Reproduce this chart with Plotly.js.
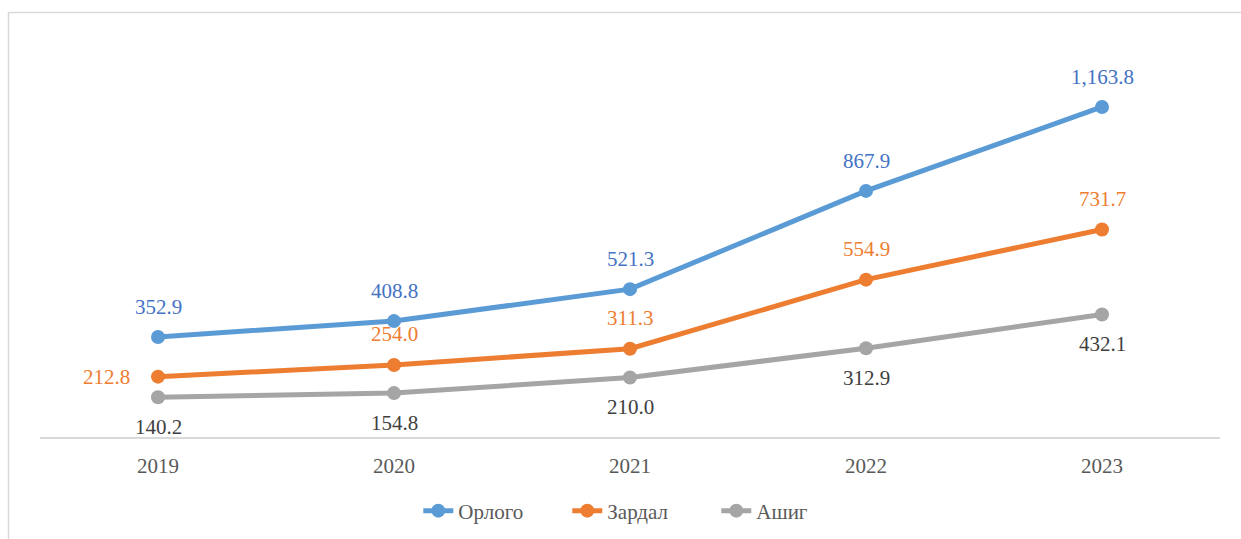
<!DOCTYPE html>
<html>
<head>
<meta charset="utf-8">
<script src="https://cdn.plot.ly/plotly-3.0.1.min.js"></script>
<style>
  html, body { margin: 0; padding: 0; background: #fff; }
  #chart { width: 1241px; height: 539px; }
</style>
</head>
<body>
<div id="chart"></div>
<script>
const years = ["2019", "2020", "2021", "2022", "2023"];
const orlogo = [352.9, 408.8, 521.3, 867.9, 1163.8];
const zardal = [212.8, 254.0, 311.3, 554.9, 731.7];
const ashig = [140.2, 154.8, 210.0, 312.9, 432.1];

const W = 1241, H = 539;
const mL = 40, mR = 21, mT = 40, mB = 102;
const plotW = W - mL - mR, plotH = H - mT - mB;
const px = x => (x - mL) / plotW;
const py = y => (H - mB - y) / plotH;

const fontFam = "Liberation Serif, Times New Roman, serif";
const fs = 21;

function series(name, y, color) {
    return {
        x: years,
        y: y,
        name: name,
        mode: "lines+markers",
        line: { color: color, width: 5 },
        marker: { color: color, size: 14 },
        hoverinfo: "skip"
    };
}

const traces = [
    series("Орлого", orlogo, "#5B9BD5"),
    series("Зардал", zardal, "#ED7D31"),
    series("Ашиг", ashig, "#A5A5A5")
];

const fmt = v => v.toLocaleString("en-US", { minimumFractionDigits: 1, maximumFractionDigits: 1 });

// category axis: annotation x is the category index (strings like "2019" get read as numbers)
const annotations = [];
years.forEach((yr, i) => {
    annotations.push({ x: i, y: orlogo[i], text: fmt(orlogo[i]), showarrow: false,
        yshift: 30, font: { color: "#4472C4", size: fs, family: fontFam } });
    const left = i === 0;
    annotations.push({ x: i, y: zardal[i], text: fmt(zardal[i]), showarrow: false,
        yshift: left ? 0 : 31, xshift: left ? -52 : 0,
        font: { color: "#ED7D31", size: fs, family: fontFam } });
    annotations.push({ x: i, y: ashig[i], text: fmt(ashig[i]), showarrow: false,
        yshift: -30, font: { color: "#404040", size: fs, family: fontFam } });
});

const layout = {
    width: W,
    height: H,
    margin: { l: mL, r: mR, t: mT, b: mB, autoexpand: false },
    paper_bgcolor: "#FFFFFF",
    plot_bgcolor: "#FFFFFF",
    font: { family: fontFam, color: "#595959", size: fs },
    showlegend: true,
    legend: {
        orientation: "h",
        x: 0.51, xanchor: "center",
        y: py(511), yanchor: "middle",
        entrywidth: 104,
        font: { size: fs, color: "#595959", family: fontFam },
        itemclick: false
    },
    xaxis: {
        type: "category",
        range: [-0.5, 4.5],
        showgrid: false,
        zeroline: false,
        showline: true,
        linecolor: "#D9D9D9",
        linewidth: 1.5,
        ticks: "",
        ticklabelstandoff: 9,
        tickfont: { size: fs, color: "#595959", family: fontFam },
        automargin: false,
        fixedrange: true
    },
    yaxis: {
        range: [0, 1400],
        visible: false,
        showgrid: false,
        zeroline: false,
        fixedrange: true
    },
    annotations: annotations,
    shapes: [{
        type: "rect", xref: "paper", yref: "paper", layer: "below",
        x0: px(8.5), x1: px(1260), y0: py(560), y1: py(12.5),
        line: { color: "#D9D9D9", width: 1.5 }, fillcolor: "rgba(0,0,0,0)"
    }]
};

Plotly.newPlot("chart", traces, layout, { staticPlot: true, displayModeBar: false });
</script>
</body>
</html>
